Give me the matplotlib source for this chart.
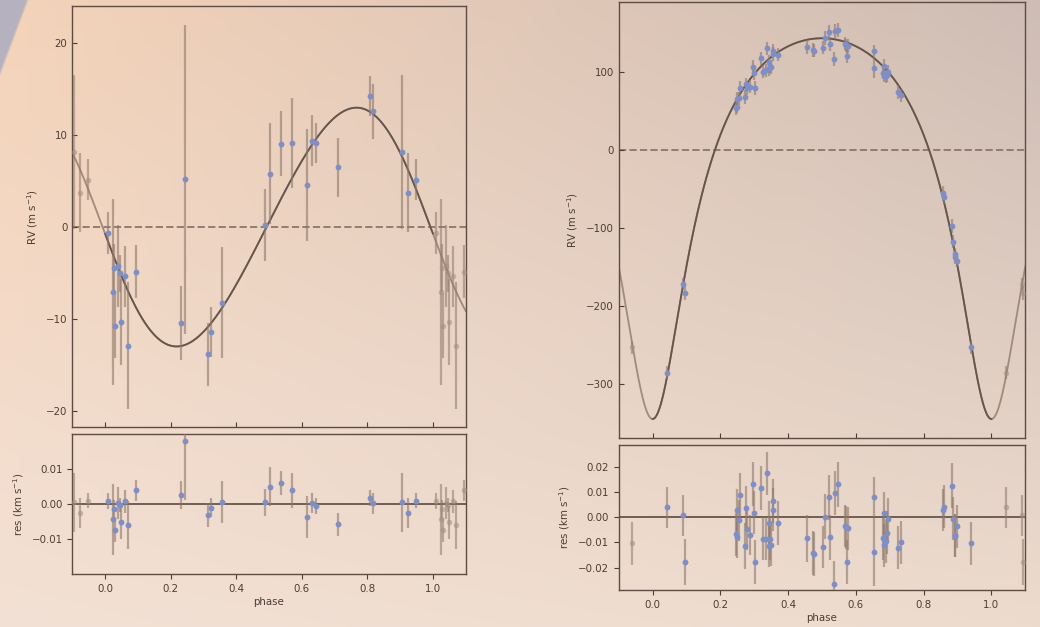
import numpy as np
import matplotlib.pyplot as plt

## phase-folded radial velocities, planet b (left) -- RV in m/s, residuals in km/s
phase_b = [0.0102, 0.0234, 0.0264, 0.0295, 0.0407, 0.0458, 0.0488, 0.0610, 0.0712, 0.0946,
           0.2309, 0.2452, 0.3143, 0.3225, 0.3571, 0.4883, 0.5036, 0.5361, 0.5697, 0.6165,
           0.6307, 0.6429, 0.7111, 0.8087, 0.8159, 0.9064, 0.9247, 0.9481]
rv_b = [-0.65, -7.09, -4.44, -10.73, -4.25, -5.05, -10.36, -5.35, -12.91, -4.87,
        -10.44, 5.20, -13.85, -11.45, -8.22, 0.22, 5.82, 9.09, 9.16, 4.55,
        9.42, 9.13, 6.51, 14.29, 12.62, 8.15, 3.75, 5.16]
res_b = [0.0010, -0.0043, -0.0013, -0.0074, 0.0003, -0.0002, -0.0052, 0.0008, -0.0059, 0.0039,
         0.0025, 0.0181, -0.0031, -0.0010, 0.0005, 0.0005, 0.0050, 0.0060, 0.0039, -0.0037,
         0.0004, -0.0005, -0.0058, 0.0018, 0.0003, 0.0005, -0.0026, 0.0010]
err_b = [2.3, 10.1, 2.6, 3.5, 4.5, 2.0, 4.7, 3.3, 6.9, 2.9,
         4.0, 16.8, 3.4, 2.7, 6.0, 3.9, 5.5, 3.5, 4.9, 6.1,
         2.8, 2.2, 3.2, 2.2, 3.0, 8.4, 4.3, 2.2]

## planet c (right)
phase_c = [0.0433, 0.0906, 0.0945, 0.245, 0.248, 0.249, 0.255, 0.259, 0.274, 0.2746,
           0.2795, 0.2864, 0.2963, 0.300, 0.303, 0.320, 0.325, 0.3346, 0.3366, 0.3425,
           0.3445, 0.347, 0.349, 0.354, 0.356, 0.371, 0.4557, 0.4734, 0.4754, 0.504,
           0.5089, 0.5207, 0.5226, 0.5364, 0.5394, 0.548, 0.567, 0.5719, 0.5758, 0.5728,
           0.6545, 0.6545, 0.680, 0.682, 0.683, 0.690, 0.693, 0.696, 0.7234, 0.7333,
           0.857, 0.861, 0.884, 0.888, 0.892, 0.893, 0.898, 0.940]
rv_c = [-286, -172, -183, 53, 55, 65, 66, 79, 68, 84,
        79, 81, 106, 98, 79, 117, 100, 102, 130, 103,
        113, 107, 106, 123, 127, 122, 132, 128, 127, 131,
        143, 151, 135, 116, 152, 154, 136, 134, 133, 120,
        126, 105, 99, 95, 108, 94, 96, 100, 74, 70,
        -55, -61, -98, -118, -134, -138, -142, -253]
res_c = [0.0040, 0.0009, -0.0177, -0.0067, -0.0080, 0.0028, -0.0012, 0.0091, -0.0115, 0.0039,
         -0.0048, -0.0071, 0.0132, 0.0019, -0.0179, 0.0117, -0.0085, -0.0085, 0.0176, -0.0113,
         -0.0021, -0.0085, -0.0109, 0.0031, 0.0065, -0.0023, -0.0084, -0.0141, -0.0145, -0.0119,
         0.0003, 0.0081, -0.0080, -0.0265, 0.0097, 0.0133, -0.0035, -0.0040, -0.0044, -0.0177,
         0.0081, -0.0137, -0.0083, -0.0111, 0.0016, -0.0096, -0.0061, -0.0007, -0.0121, -0.0099,
         0.0029, 0.0043, 0.0127, -0.0005, -0.0071, -0.0073, -0.0036, -0.0104]
err_c = [8.3, 8.2, 9.1, 8.5, 8.0, 8.5, 8.3, 8.8, 9.1, 8.5,
         8.3, 8.0, 8.8, 8.5, 8.7, 8.8, 8.5, 8.5, 8.5, 8.5,
         8.5, 8.5, 8.5, 8.7, 8.7, 8.7, 9.3, 8.7, 8.7, 8.3,
         9.0, 9.0, 9.0, 9.0, 8.7, 9.0, 8.5, 8.5, 8.5, 8.7,
         8.0, 13.5, 8.5, 8.5, 8.5, 8.5, 8.5, 8.5, 8.5, 8.5,
         8.5, 8.5, 9.0, 8.5, 8.5, 8.5, 8.5, 8.5]

## orbit fits: K (m/s), e, omega, time of periastron (in phase)
orbit_b = (13.0, 0.077, np.pi / 2, -0.0075)
orbit_c = (244.0, 0.414, np.pi, 0.0)

BLUE = '#7d8fc8'
DARK = '#66554b'
TEXT = '#4d3d34'
ERR = '#8f786a'
WRAP = '#a38f82'


def kepler_rv(phase, K, e, w, tp):
    M = 2 * np.pi * (phase - tp)
    E = M.copy()
    for _ in range(60):
        E = E - (E - e * np.sin(E) - M) / (1 - e * np.cos(E))
    nu = 2 * np.arctan2(np.sqrt(1 + e) * np.sin(E / 2), np.sqrt(1 - e) * np.cos(E / 2))
    return K * (np.cos(nu + w) + e * np.cos(w))


def wrap(ph, *cols):
    ph = np.asarray(ph)
    lo = ph > 0.9
    hi = ph < 0.1
    out = [np.concatenate([ph[lo] - 1, ph[hi] + 1])]
    for c in cols:
        c = np.asarray(c)
        out.append(np.concatenate([c[lo], c[hi]]))
    return out


def style(ax, inward):
    for s in ax.spines.values():
        s.set_color('#5e4c42')
        s.set_linewidth(1.0)
    ax.tick_params(colors=TEXT, labelsize=7.4, direction='in' if inward else 'out',
                   length=3.5, width=0.8)
    ax.set_facecolor('none')
    ax.set_xlim(-0.1, 1.1)
    ax.set_xticks([0.0, 0.2, 0.4, 0.6, 0.8, 1.0])


def phase_panel(ax, axr, ph, rv, res, err, orbit, ylim, yticks, rlim, rticks, rlabels):
    grid = np.linspace(-0.1, 1.1, 2000)
    mod = kepler_rv(grid, *orbit)
    ax.plot(grid, mod, color='#a08a7c', lw=1.3, zorder=2)
    inside = (grid >= 0) & (grid <= 1)
    ax.plot(grid[inside], mod[inside], color=DARK, lw=1.3, zorder=3)
    ax.axhline(0, color='#8c766a', lw=1.3, dashes=(4, 1.8), zorder=1)

    err = np.asarray(err)
    wph, wrv, wres, werr = wrap(ph, rv, res, err)
    ax.errorbar(wph, wrv, yerr=werr, fmt='o', ms=4, color=WRAP, mec='none',
                ecolor=ERR, elinewidth=1.6, capsize=0, alpha=0.55, zorder=4)
    ax.errorbar(ph, rv, yerr=err, fmt='o', ms=4.2, color=BLUE, mec='none',
                ecolor=ERR, elinewidth=1.6, capsize=0, zorder=5)
    for line in ax.containers[-1].lines[2]:
        line.set_alpha(0.6)
    ax.set_ylim(*ylim)
    ax.set_yticks(yticks)
    ax.set_ylabel('RV (m s$^{-1}$)', color=TEXT, fontsize=7.4)
    ax.tick_params(labelbottom=False)

    axr.axhline(0, color=DARK, lw=1.3, zorder=1)
    axr.errorbar(wph, wres, yerr=werr / 1000, fmt='o', ms=4, color=WRAP, mec='none',
                 ecolor=ERR, elinewidth=1.6, capsize=0, alpha=0.55, zorder=4)
    axr.errorbar(ph, res, yerr=err / 1000, fmt='o', ms=4.2, color=BLUE, mec='none',
                 ecolor=ERR, elinewidth=1.6, capsize=0, zorder=5)
    for line in axr.containers[-1].lines[2]:
        line.set_alpha(0.6)
    axr.set_ylim(*rlim)
    axr.set_yticks(rticks)
    axr.set_yticklabels(rlabels)
    axr.set_xticklabels(['0.0', '0.2', '0.4', '0.6', '0.8', '1.0'])
    axr.set_ylabel('res (km s$^{-1}$)', color=TEXT, fontsize=7.4)
    axr.set_xlabel('phase', color=TEXT, fontsize=7.4, labelpad=2)


fig = plt.figure(figsize=(10.4, 6.27), dpi=100)

# warm gradient backdrop with a grey sweep in the top-left corner
H, W = 627, 1040
yy, xx = np.mgrid[0:H, 0:W]
u = xx / (W - 1)
v = yy / (H - 1)
tl = np.array([244, 211, 185])
tr = np.array([206, 189, 181])
bl = np.array([243, 225, 213])
br = np.array([237, 219, 206])
img = ((1 - u)[..., None] * (1 - v)[..., None] * tl + u[..., None] * (1 - v)[..., None] * tr
       + (1 - u)[..., None] * v[..., None] * bl + u[..., None] * v[..., None] * br)
edge = 27 - xx - yy * 0.375
mask = np.clip(edge / 3 + 0.5, 0, 1)[..., None]
img = img * (1 - mask) + np.array([182, 177, 190]) * mask
bg = fig.add_axes([0, 0, 1, 1], zorder=-10)
bg.imshow(img.astype(np.uint8), aspect='auto', interpolation='bilinear')
bg.axis('off')

ax1 = fig.add_axes([0.0695, 0.3185, 0.3783, 0.6724])
ax1r = fig.add_axes([0.0695, 0.0841, 0.3783, 0.2238])
ax2 = fig.add_axes([0.5949, 0.3019, 0.3910, 0.6944])
ax2r = fig.add_axes([0.5949, 0.0590, 0.3910, 0.2313])
for a in (ax1, ax2):
    style(a, True)
for a in (ax1r, ax2r):
    style(a, False)

phase_panel(ax1, ax1r, phase_b, rv_b, res_b, err_b, orbit_b,
            (-21.8, 24.1), [-20, -10, 0, 10, 20],
            (-0.02, 0.02), [-0.01, 0.0, 0.01], ['\u22120.01', '0.00', '0.01'])
phase_panel(ax2, ax2r, phase_c, rv_c, res_c, err_c, orbit_c,
            (-369, 189), [-300, -200, -100, 0, 100],
            (-0.029, 0.029), [-0.02, -0.01, 0.0, 0.01, 0.02],
            ['\u22120.02', '\u22120.01', '0.00', '0.01', '0.02'])

fig.savefig('out.png', dpi=100)
